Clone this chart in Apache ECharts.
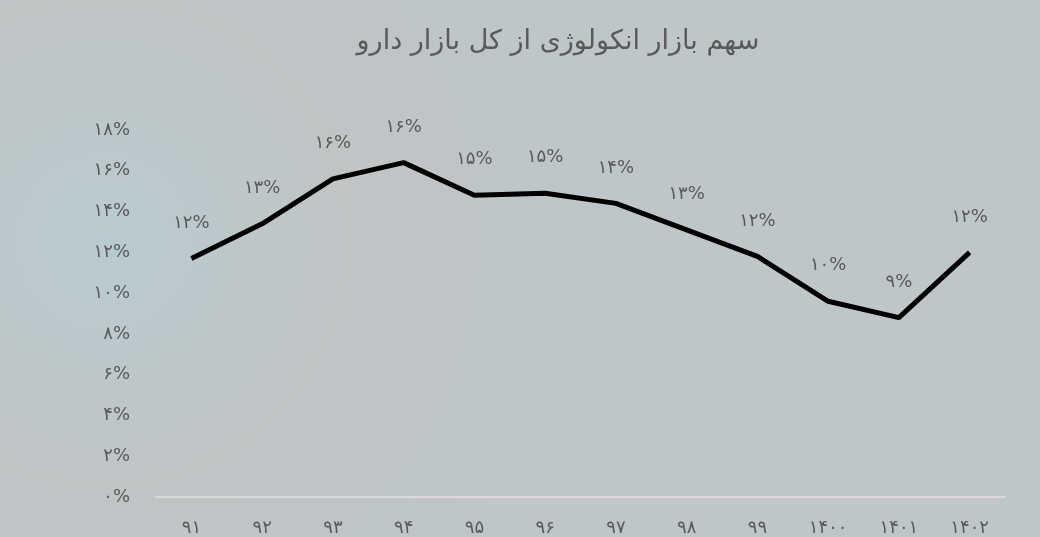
<!DOCTYPE html>
<html>
<head>
<meta charset="utf-8">
<script src="https://cdn.jsdelivr.net/npm/echarts@6/dist/echarts.min.js"></script>
<style>
  html, body { margin: 0; padding: 0; }
  #main { width: 1040px; height: 537px; }
</style>
</head>
<body>
<div id="main"></div>
<script>
// سال‌ها
var years = ['91', '92', '93', '94', '95', '96', '97', '98', '99', '1400', '1401', '1402'];
// سهم انکولوژی (درصد)
var share = [11.7, 13.4, 15.6, 16.4, 14.8, 14.9, 14.4, 13.1, 11.8, 9.6, 8.8, 12.0];
// محور عمودی
var yTicks = [0, 2, 4, 6, 8, 10, 12, 14, 16, 18];

var faDigits = '۰۱۲۳۴۵۶۷۸۹';
function toFa(s) {
  return String(s).replace(/[0-9]/g, function (d) { return faDigits[+d]; });
}

var myChart = echarts.init(document.getElementById('main'));

var option = {
  backgroundColor: {
    type: 'radial', x: 0.1, y: 0.45, r: 0.9,
    colorStops: [
      { offset: 0, color: '#b9cbd0' },
      { offset: 0.5, color: '#c0c4c5' },
      { offset: 1, color: '#bec6c9' }
    ]
  },
  textStyle: { fontFamily: 'DejaVu Sans' },
  title: {
    text: 'سهم بازار انکولوژی از کل بازار دارو',
    left: 553,
    top: 23,
    textAlign: 'center',
    textStyle: { fontSize: 27, fontWeight: 'normal', color: '#595959', fontFamily: 'DejaVu Sans' }
  },
  grid: { left: 156, right: 35, top: 130, bottom: 39 },
  xAxis: {
    type: 'category',
    data: years,
    axisLine: { lineStyle: { color: '#d9d9d9', width: 2 } },
    axisTick: { show: false },
    axisLabel: {
      color: '#595959', fontSize: 18, margin: 22,
      formatter: function (v) { return toFa(v); }
    }
  },
  yAxis: {
    type: 'value',
    min: yTicks[0],
    max: yTicks[yTicks.length - 1],
    interval: 2,
    axisLine: { show: false },
    axisTick: { show: false },
    splitLine: { show: false },
    axisLabel: {
      color: '#595959', fontSize: 18, margin: 26,
      formatter: function (v) { return toFa(v) + '%'; }
    }
  },
  series: [{
    type: 'line',
    data: share,
    symbol: 'circle',
    symbolSize: 1,
    showSymbol: true,
    itemStyle: { color: 'rgba(0,0,0,0)' },
    lineStyle: { color: '#000000', width: 5 },
    label: {
      show: true,
      position: 'top',
      distance: 26,
      color: '#595959',
      fontSize: 18,
      formatter: function (p) { return toFa(Math.round(p.value)) + '%'; }
    }
  }]
};

myChart.setOption(option);
</script>
</body>
</html>
